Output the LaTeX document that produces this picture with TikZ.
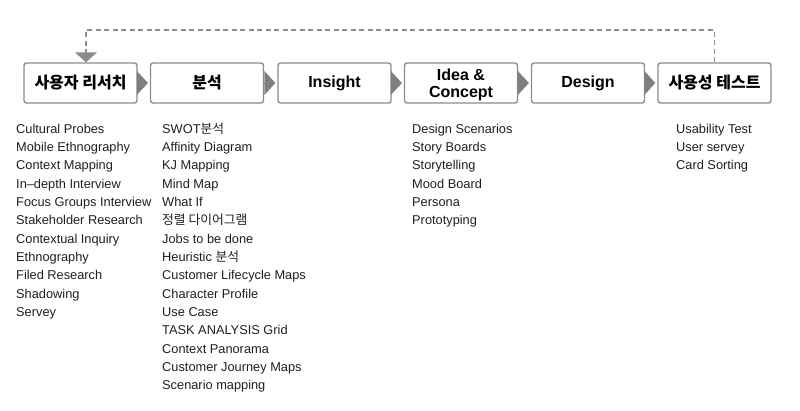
\documentclass[tikz,border=0pt]{standalone}
\usepackage{fontspec}
\setmainfont{Liberation Sans}
\newfontfamily\kr{Noto Sans CJK KR}
\usetikzlibrary{arrows.meta}

\definecolor{boxgray}{HTML}{8C8C8C}
\definecolor{tipgray}{HTML}{7F7F7F}

\tikzset{
  stagebox/.style={draw=boxgray, line width=1.4pt, rounded corners=2.5pt, fill=white,
    minimum width=113pt, minimum height=40pt, inner sep=0pt, align=center,
    font=\fontsize{16}{17}\selectfont\bfseries},
  flowtip/.style={tipgray, line width=0.4pt, shorten >=2pt,
    -{Triangle[length=11pt,width=24pt]}},
  feedback/.style={boxgray, line width=1.4pt, dash pattern=on 5pt off 3.5pt,
    -{Triangle[length=10pt,width=22pt]}},
  item/.style={anchor=base west, inner sep=0pt, text=black!88,
    font=\fontsize{12.8}{14}\selectfont}
}

\begin{document}
\begin{tikzpicture}[x=1pt,y=-1pt]
\useasboundingbox (0,0) rectangle (800,410);

				% stages
				\node[stagebox] (research) at (80.5,83) {\kr 사용자 리서치};
				\node[stagebox] (analysis) at (207,83) {\kr 분석};
				\node[stagebox] (insight) at (334.5,83) {Insight};
				\node[stagebox] (idea) at (461,83) {\raisebox{-6.5pt}[0pt][0pt]{\begin{tabular}{@{}c@{}}Idea \&\\Concept\end{tabular}}};
				\node[stagebox] (design) at (588,83) {Design};
				\node[stagebox] (usertest) at (714.5,83) {\kr 사용성 테스트};
				
				\draw[flowtip] (research.east) -- (analysis.west);
				\draw[flowtip] (analysis.east) -- (insight.west);
				\draw[flowtip] (insight.east) -- (idea.west);
				\draw[flowtip] (idea.east) -- (design.west);
				\draw[flowtip] (design.east) -- (usertest.west);
				
				% loop back
				\draw[feedback] (usertest.north) -- (usertest.north |- 0,30) -| ([xshift=5.5pt]research.north);
				
				% methods
				\foreach \t [count=\i] in {Cultural Probes, Mobile Ethnography, Context Mapping,
				  In--depth Interview, Focus Groups Interview, Stakeholder Research,
				  Contextual Inquiry, Ethnography, Filed Research, Shadowing, Servey}
				  \node[item] (res\i) at (16,133+18.35*\i-18.35) {\t};
				
				\foreach \t [count=\i] in {SWOT{\kr 분석}, Affinity Diagram, KJ Mapping, Mind Map,
				  What If, {\kr 정렬 다이어그램}, Jobs to be done, Heuristic {\kr 분석},
				  Customer Lifecycle Maps, Character Profile, Use Case, TASK ANALYSIS Grid,
				  Context Panorama, Customer Journey Maps, Scenario mapping}
				  \node[item] (ana\i) at (162,133+18.35*\i-18.35) {\t};
				
				\foreach \t [count=\i] in {Design Scenarios, Story Boards, Storytelling,
				  Mood Board, Persona, Prototyping}
				  \node[item] (idea\i) at (412,133+18.35*\i-18.35) {\t};
				
				\foreach \t [count=\i] in {Usability Test, User servey, Card Sorting}
				  \node[item] (test\i) at (676,133+18.35*\i-18.35) {\t};
\end{tikzpicture}
\end{document}
